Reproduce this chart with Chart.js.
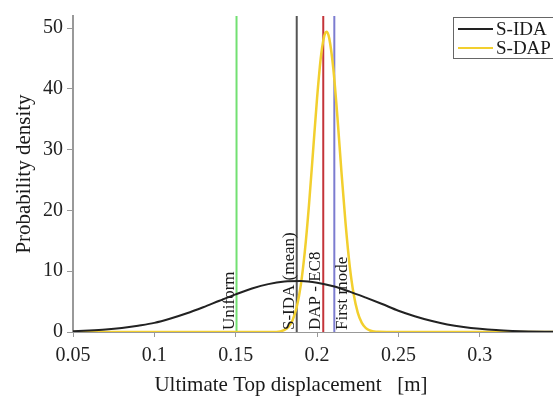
<!DOCTYPE html>
<html>

<head>
  <title>Top displacement density</title>
  <meta charset="UTF-8">
  <script src="https://cdn.jsdelivr.net/npm/chart.js"></script>
  <style>
    body {
      margin: 0;
      background: #fff;
    }

    canvas {
      display: block;
    }
  </style>
</head>

<body>
  <canvas id="pdfChart" width="553" height="401"></canvas>

  <script>
    // S-IDA fitted density (black curve)
    const idaX = [0.05, 0.06, 0.07, 0.08, 0.09, 0.10, 0.11, 0.12, 0.13, 0.14, 0.15, 0.16, 0.17, 0.18, 0.19,
      0.20, 0.21, 0.22, 0.23, 0.24, 0.25, 0.26, 0.27, 0.28, 0.29, 0.30, 0.31, 0.32, 0.33, 0.34, 0.345];
    const idaY = [0.13, 0.24, 0.40, 0.66, 1.04, 1.50, 2.22, 3.08, 4.08, 5.15, 6.20, 7.15, 7.88, 8.30, 8.38,
      8.12, 7.52, 6.65, 5.65, 4.60, 3.50, 2.60, 1.85, 1.25, 0.82, 0.52, 0.31, 0.18, 0.10, 0.05, 0.04];

    // S-DAP density (yellow curve)
    const dapX = [0.05, 0.175, 0.18, 0.1825, 0.185, 0.1875, 0.19, 0.1925, 0.195, 0.1975, 0.20, 0.2025, 0.205, 0.206,
      0.2075, 0.21, 0.2125, 0.215, 0.2175, 0.22, 0.2225, 0.225, 0.2275, 0.23, 0.2325, 0.235, 0.2375, 0.25, 0.345];
    const dapY = [0, 0, 0.35, 0.87, 1.98, 4.10, 7.72, 13.3, 20.8, 29.6, 38.5, 45.6, 49.2, 49.4,
      48.3, 43.3, 35.4, 26.3, 17.9, 11.0, 6.2, 3.2, 1.5, 0.63, 0.25, 0.09, 0.03, 0, 0];

    // vertical reference lines
    const markerNames = ['Uniform', 'S-IDA (mean)', 'DAP - EC8', 'First mode'];
    const markerX = [0.1505, 0.1875, 0.2038, 0.2106];

    const xTicks = [0.05, 0.1, 0.15, 0.2, 0.25, 0.3];
    const yTicks = [0, 10, 20, 30, 40, 50];

    const xTitle = 'Ultimate Top displacement   [m]';
    const yTitle = 'Probability density';

    const markerColors = ['#72e072', '#555555', '#c4343a', '#7c7cd0'];
    const markerSide = ['left', 'left', 'left', 'right'];
    const serif = '"Liberation Serif", "DejaVu Serif", serif';

    const markerSets = markerNames.map((name, i) => ({
      label: name,
      isMarker: true,
      data: [{ x: markerX[i], y: 0 }, { x: markerX[i], y: 52 }],
      borderColor: markerColors[i],
      borderWidth: 2,
      pointRadius: 0,
      order: 2
    }));

    const labelPlugin = {
      id: 'markerLabels',
      afterDatasetsDraw(chart) {
        const { ctx, scales: { x, y } } = chart;
        ctx.save();
        ctx.font = '17px ' + serif;
        ctx.fillStyle = '#1a1a1a';
        ctx.textAlign = 'left';
        ctx.textBaseline = 'alphabetic';
        markerNames.forEach((name, i) => {
          const px = x.getPixelForValue(markerX[i]);
          const bx = markerSide[i] === 'left' ? px - 3 : px + 13;
          ctx.save();
          ctx.translate(bx, y.getPixelForValue(0) - 2);
          ctx.rotate(-Math.PI / 2);
          ctx.fillText(name, 0, 0);
          ctx.restore();
        });
        ctx.restore();
      },
      afterDraw(chart) {
        const { ctx } = chart;
        ctx.save();
        // x axis title
        ctx.font = '21px ' + serif;
        ctx.fillStyle = '#1a1a1a';
        ctx.textAlign = 'center';
        ctx.textBaseline = 'middle';
        ctx.fillText(xTitle, 291, 385);

        // boxed legend, top right
        const items = chart.data.datasets.filter(d => !d.isMarker);
        ctx.strokeStyle = '#666';
        ctx.lineWidth = 1;
        ctx.strokeRect(453.5, 17.5, 110, 41);
        ctx.font = '19px ' + serif;
        ctx.textAlign = 'left';
        items.forEach((d, i) => {
          const ly = 29 + i * 19;
          ctx.strokeStyle = d.borderColor;
          ctx.lineWidth = 2;
          ctx.beginPath();
          ctx.moveTo(458, ly);
          ctx.lineTo(493, ly);
          ctx.stroke();
          ctx.fillStyle = '#1a1a1a';
          ctx.fillText(d.label, 496, ly + 1);
        });
        ctx.restore();
      }
    };

    const ctx = document.getElementById('pdfChart').getContext('2d');
    new Chart(ctx, {
      type: 'line',
      data: {
        datasets: [
          {
            label: 'S-IDA',
            data: idaX.map((v, i) => ({ x: v, y: idaY[i] })),
            borderColor: '#222222',
            borderWidth: 2,
            pointRadius: 0,
            cubicInterpolationMode: 'monotone',
            order: 0
          },
          {
            label: 'S-DAP',
            data: dapX.map((v, i) => ({ x: v, y: dapY[i] })),
            borderColor: '#f2cf2e',
            borderWidth: 2.5,
            pointRadius: 0,
            cubicInterpolationMode: 'monotone',
            order: 1
          },
          ...markerSets
        ]
      },
      options: {
        responsive: false,
        animation: false,
        layout: { padding: { top: 10, right: 0, left: 0, bottom: 0 } },
        plugins: {
          legend: { display: false },
          tooltip: { enabled: false }
        },
        scales: {
          x: {
            type: 'linear',
            min: 0.05,
            max: 0.345,
            afterFit: s => { s.height = 69; },
            afterBuildTicks: s => { s.ticks = xTicks.map(v => ({ value: v })); },
            ticks: {
              includeBounds: false,
              padding: 7,
              color: '#222',
              font: { family: serif, size: 20 },
              maxRotation: 0,
              callback: v => String(+v.toFixed(3))
            },
            grid: { drawOnChartArea: false, tickLength: 5, color: '#999' },
            border: { color: '#999', width: 1 }
          },
          y: {
            min: 0,
            max: 52,
            afterFit: s => { s.width = 73; },
            afterBuildTicks: s => { s.ticks = yTicks.map(v => ({ value: v })); },
            ticks: {
              includeBounds: false,
              padding: 4,
              color: '#222',
              font: { family: serif, size: 20 }
            },
            grid: { drawOnChartArea: false, tickLength: 6, color: '#999' },
            border: { color: '#999', width: 2 },
            title: {
              display: true,
              text: yTitle,
              color: '#1a1a1a',
              font: { family: serif, size: 21 },
              padding: { top: 12, bottom: 0 }
            }
          }
        }
      },
      plugins: [labelPlugin]
    });
  </script>
</body>

</html>
